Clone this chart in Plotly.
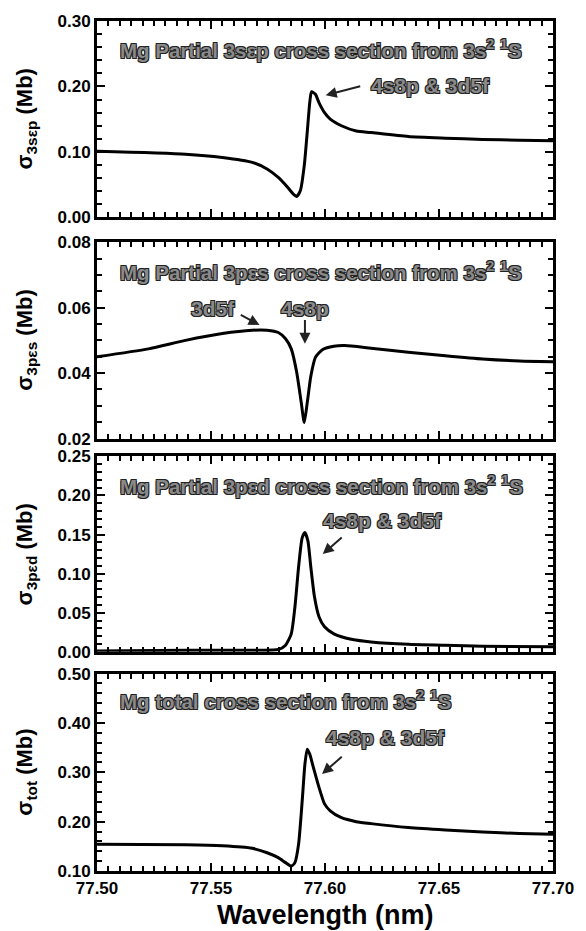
import plotly.graph_objects as go

# ---------------- data ----------------
wl_3sep = [77.500, 77.5388, 77.5550, 77.5681, 77.5746, 77.5795, 77.5836, 77.5860, 77.5876, 77.5892,
           77.5909, 77.5922, 77.5933, 77.5941, 77.5958, 77.5974, 77.5998, 77.6023, 77.6072, 77.6137,
           77.6202, 77.6365, 77.6528, 77.6691, 77.6853, 77.7000]
sig_3sep = [0.101, 0.0966, 0.0915, 0.084, 0.074, 0.061, 0.046, 0.036, 0.032, 0.041,
            0.079, 0.130, 0.175, 0.192, 0.188, 0.175, 0.160, 0.150, 0.140, 0.132,
            0.1296, 0.1235, 0.121, 0.119, 0.118, 0.117]

wl_3pes = [77.500, 77.5225, 77.5388, 77.5550, 77.5681, 77.5746, 77.5795, 77.5827, 77.5852, 77.5876,
           77.5896, 77.5909, 77.5922, 77.5938, 77.5958, 77.5990, 77.6039, 77.6088, 77.6202, 77.6365,
           77.6528, 77.6691, 77.6853, 77.7000]
sig_3pes = [0.0450, 0.0474, 0.0500, 0.0521, 0.0531, 0.0531, 0.0524, 0.0505, 0.0474, 0.0402,
            0.0309, 0.0249, 0.0309, 0.0391, 0.0448, 0.0472, 0.0482, 0.0484, 0.0476, 0.0464,
            0.0453, 0.0443, 0.0437, 0.0435]

wl_3ped = [77.500, 77.5388, 77.5713, 77.5795, 77.5827, 77.5852, 77.5868, 77.5884, 77.5900, 77.5912,
           77.5925, 77.5938, 77.5954, 77.5974, 77.5998, 77.6039, 77.6121, 77.6202, 77.6365, 77.6528,
           77.6691, 77.7000]
sig_3ped = [0.001, 0.002, 0.002, 0.003, 0.0085, 0.023, 0.057, 0.108, 0.146, 0.1525,
            0.142, 0.108, 0.070, 0.0445, 0.032, 0.023, 0.0157, 0.0127, 0.0097, 0.0085,
            0.0072, 0.0064]

wl_tot = [77.500, 77.5388, 77.5550, 77.5681, 77.5746, 77.5795, 77.5827, 77.5852, 77.5868, 77.5884,
          77.5900, 77.5912, 77.5922, 77.5933, 77.5949, 77.5974, 77.5998, 77.6023, 77.6072, 77.6137,
          77.6202, 77.6365, 77.6528, 77.6691, 77.6853, 77.7000]
sig_tot = [0.1542, 0.153, 0.151, 0.146, 0.137, 0.127, 0.117, 0.110, 0.117, 0.154,
           0.242, 0.317, 0.347, 0.337, 0.310, 0.269, 0.236, 0.222, 0.208, 0.200,
           0.196, 0.188, 0.183, 0.179, 0.176, 0.1746]

panel_titles = ["Mg Partial 3sεp cross section from 3s<sup>2</sup> <sup>1</sup>S",
                "Mg Partial 3pεs cross section from 3s<sup>2</sup> <sup>1</sup>S",
                "Mg Partial 3pεd cross section from 3s<sup>2</sup> <sup>1</sup>S",
                "Mg total cross section from 3s<sup>2</sup> <sup>1</sup>S"]
y_titles = ["σ<sub>3sεp</sub> (Mb)", "σ<sub>3pεs</sub> (Mb)", "σ<sub>3pεd</sub> (Mb)", "σ<sub>tot</sub> (Mb)"]
y_ranges = [[0.0, 0.30], [0.02, 0.08], [0.0, 0.25], [0.10, 0.50]]
y_dticks = [0.10, 0.02, 0.05, 0.10]
y_minor = [0.02, 0.005, 0.01, 0.02]
x_range = [77.50, 77.70]
x_ticks = [77.50, 77.55, 77.60, 77.65, 77.70]
x_title = "Wavelength (nm)"
title_pos = [0.257, 0.0712, 0.214, 0.4458]

# label annotations: (text, text_x, text_y, head_x, head_y, tail_x, tail_y)
labels = [
    [("4s8p &amp; 3d5f", 77.6463, 0.2009, 77.6003, 0.1866, 77.6161, 0.2009)],
    [("3d5f", 77.5510, 0.0598, 77.5713, 0.0547, 77.5624, 0.0580),
     ("4s8p", 77.5912, 0.0598, 77.5912, 0.0490, 77.5912, 0.0567)],
    [("4s8p &amp; 3d5f", 77.6251, 0.1674, 77.5990, 0.125, 77.6080, 0.148)],
    [("4s8p &amp; 3d5f", 77.6267, 0.3712, 77.5987, 0.2966, 77.6080, 0.334)],
]

# ---------------- figure ----------------
W, H = 586, 931
L, R, T, B = 97, 29, 14, 60
plot_h = H - T - B
panel_px = [(14, 212), (237, 435), (453, 650), (672, 871)]
domains = [[(H - B - b) / plot_h, (H - B - t) / plot_h] for t, b in panel_px]

FONT = "Liberation Sans, Arial, sans-serif"
series = [(wl_3sep, sig_3sep), (wl_3pes, sig_3pes), (wl_3ped, sig_3ped), (wl_tot, sig_tot)]

fig = go.Figure()
layout = dict(width=W, height=H, margin=dict(l=L, r=R, t=T, b=B),
              paper_bgcolor="white", plot_bgcolor="white", showlegend=False,
              font=dict(family=FONT, color="black"))
annotations = []
outline = "-1px -1px 0 #222, 1px -1px 0 #222, -1px 1px 0 #222, 1px 1px 0 #222"

for i, (xs, ys) in enumerate(series):
    n = i + 1
    xa = "x" if n == 1 else f"x{n}"
    ya = "y" if n == 1 else f"y{n}"
    fig.add_trace(go.Scatter(x=xs, y=ys, mode="lines", xaxis=xa, yaxis=ya,
                             line=dict(color="black", width=3, shape="spline", smoothing=0.6),
                             hoverinfo="skip"))
    last = (n == 4)
    layout["xaxis" if n == 1 else f"xaxis{n}"] = dict(
        domain=[0, 1], anchor=ya, range=x_range, tickvals=x_ticks,
        ticktext=[f"{v:.2f}" for v in x_ticks], showticklabels=last,
        ticks="inside", ticklen=8, tickwidth=2, tickcolor="black",
        minor=dict(dtick=0.005, tick0=77.5, ticks="inside", ticklen=5, tickwidth=1.5, tickcolor="black"),
        showline=True, linewidth=3, linecolor="black", mirror="ticks",
        showgrid=False, zeroline=False,
        tickfont=dict(size=17, weight="bold", family=FONT),
    )
    layout["yaxis" if n == 1 else f"yaxis{n}"] = dict(
        domain=domains[i], anchor=xa, range=y_ranges[i], dtick=y_dticks[i], tick0=y_ranges[i][0],
        tickformat=".2f", ticks="inside", ticklen=8, tickwidth=2, tickcolor="black",
        minor=dict(dtick=y_minor[i], ticks="inside", ticklen=5, tickwidth=1.5, tickcolor="black"),
        showline=True, linewidth=3, linecolor="black", mirror="ticks",
        showgrid=False, zeroline=False,
        tickfont=dict(size=17, weight="bold", family=FONT),
    )
    # panel title
    annotations.append(dict(xref=xa, yref=ya, x=77.5094, y=title_pos[i], text=panel_titles[i],
                            showarrow=False, xanchor="left", yanchor="middle",
                            font=dict(size=20.5, weight="bold", family=FONT, color="#8a8a8a", shadow=outline)))
    # y title
    annotations.append(dict(xref="paper", yref="paper", x=-0.155, y=sum(domains[i]) / 2,
                            text=y_titles[i], textangle=-90, showarrow=False,
                            xanchor="center", yanchor="middle",
                            font=dict(size=22, weight="bold", family=FONT, color="black")))
    for (txt, tx, ty, hx, hy, sx, sy) in labels[i]:
        annotations.append(dict(xref=xa, yref=ya, x=tx, y=ty, text=txt, showarrow=False,
                                xanchor="center", yanchor="middle",
                                font=dict(size=21, weight="bold", family=FONT, color="#8a8a8a", shadow=outline)))
        annotations.append(dict(xref=xa, yref=ya, x=hx, y=hy, ax=sx, ay=sy, axref=xa, ayref=ya,
                                text="", showarrow=True, arrowhead=2, arrowsize=1.1, arrowwidth=2,
                                arrowcolor="#222"))

# x-axis title
annotations.append(dict(xref="paper", yref="paper", x=0.5, y=(871 - 915) / plot_h,
                        text=x_title, showarrow=False, xanchor="center", yanchor="middle",
                        font=dict(size=27, weight="bold", family=FONT, color="black")))

layout["annotations"] = annotations
fig.update_layout(**layout)
fig.write_html("out.html", config={"displayModeBar": False},
               post_script="document.body.style.margin='0px';")
